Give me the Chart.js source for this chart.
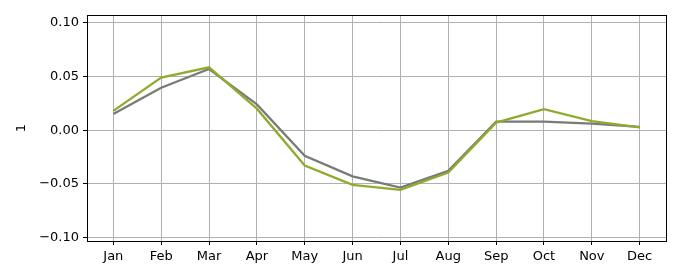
<!DOCTYPE html>
<html>
<head>
<meta charset="utf-8">
<script src="https://cdn.jsdelivr.net/npm/chart.js@4"></script>
<style>
  html, body { margin: 0; padding: 0; background: #fff; }
  #wrap { width: 680px; height: 280px; }
</style>
</head>
<body>
<div id="wrap"><canvas id="chart" width="680" height="280"></canvas></div>
<script>
// chart data
const months = ["Jan", "Feb", "Mar", "Apr", "May", "Jun", "Jul", "Aug", "Sep", "Oct", "Nov", "Dec"];
const grayValues = [0.015, 0.0395, 0.057, 0.024, -0.024, -0.043, -0.0535, -0.038, 0.008, 0.008, 0.006, 0.003];
const greenValues = [0.018, 0.049, 0.0585, 0.020, -0.033, -0.051, -0.0557, -0.0395, 0.007, 0.0196, 0.0084, 0.0025];
const yTicks = [-0.10, -0.05, 0.00, 0.05, 0.10];
const yLabel = "1";

const FONT = "'DejaVu Sans', sans-serif";

function toPoints(values) {
    return values.map((v, i) => ({ x: i, y: v }));
}

// black frame around the plot area plus the rotated y label
const frame = {
    id: "frame",
    afterDraw(chart) {
        const a = chart.chartArea;
        const ctx = chart.ctx;
        ctx.save();
        ctx.strokeStyle = "#000";
        ctx.lineWidth = 1;
        ctx.strokeRect(Math.round(a.left) + 0.5, Math.round(a.top) + 0.5,
            Math.round(a.right - a.left), Math.round(a.bottom - a.top));

        ctx.translate(22, (a.top + a.bottom) / 2);
        ctx.rotate(-Math.PI / 2);
        ctx.fillStyle = "#000";
        ctx.font = "13px " + FONT;
        ctx.textAlign = "center";
        ctx.textBaseline = "middle";
        ctx.fillText(yLabel, 0, 0);
        ctx.restore();
    }
};

new Chart(document.getElementById("chart"), {
    type: "line",
    data: {
        datasets: [
            {
                data: toPoints(grayValues),
                borderColor: "#7a7a7a",
                borderWidth: 2.3,
                pointRadius: 0,
                tension: 0,
                order: 2
            },
            {
                data: toPoints(greenValues),
                borderColor: "#8fab2e",
                borderWidth: 2.3,
                pointRadius: 0,
                tension: 0,
                order: 1
            }
        ]
    },
    plugins: [frame],
    options: {
        responsive: false,
        animation: false,
        layout: { padding: { left: 0, right: 14, top: 15, bottom: 0 } },
        plugins: { legend: { display: false }, tooltip: { enabled: false } },
        scales: {
            x: {
                type: "linear",
                min: -0.55,
                max: months.length - 1 + 0.55,
                afterBuildTicks: (scale) => { scale.ticks = months.map((m, i) => ({ value: i })); },
                afterFit: (scale) => { scale.height = 39; },
                border: { display: false },
                grid: { color: "#b0b0b0", lineWidth: 1, tickLength: 4, tickColor: "#000" },
                ticks: {
                    color: "#000",
                    font: { family: FONT, size: 13 },
                    padding: 4,
                    maxRotation: 0,
                    autoSkip: false,
                    callback: (v) => months[v]
                }
            },
            y: {
                min: -0.1033,
                max: 0.1073,
                afterBuildTicks: (scale) => { scale.ticks = yTicks.map(v => ({ value: v })); },
                afterFit: (scale) => { scale.width = 87; },
                border: { display: false },
                grid: { color: "#b0b0b0", lineWidth: 1, tickLength: 4, tickColor: "#000" },
                ticks: {
                    color: "#000",
                    font: { family: FONT, size: 13 },
                    padding: 4,
                    callback: (v) => v.toFixed(2).replace("-", "\u2212")
                }
            }
        }
    }
});
</script>
</body>
</html>
